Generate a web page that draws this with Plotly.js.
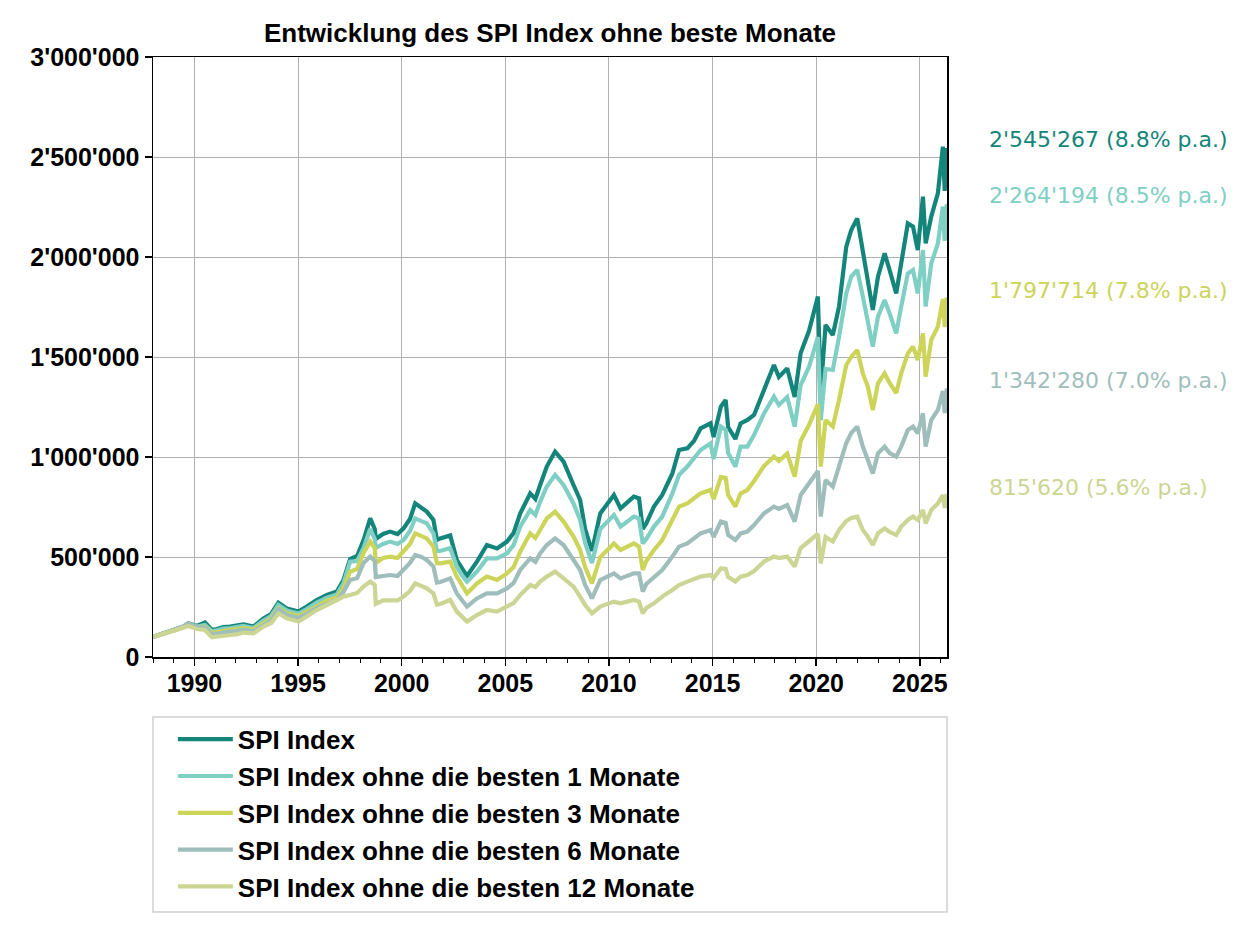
<!DOCTYPE html>
<html>
<head>
<meta charset="utf-8">
<script src="https://cdn.plot.ly/plotly-3.0.1.min.js"></script>
<style>
  html, body { margin: 0; padding: 0; background: #ffffff; }
  #chart { width: 1260px; height: 945px; }
</style>
</head>
<body>
<div id="chart"></div>
<script>
// ---------- data ----------
const years = [
  1988.0, 1988.4, 1988.83, 1989.2, 1989.47, 1989.71, 1990.11, 1990.51, 1990.84, 1991.08,
  1991.4, 1991.72, 1992.05, 1992.36, 1992.85, 1993.33, 1993.7, 1994.05, 1994.46, 1995.02,
  1995.42, 1995.9, 1996.39, 1996.87, 1997.19, 1997.51, 1997.85, 1998.16, 1998.48, 1998.7,
  1998.75, 1999.1, 1999.44, 1999.8, 2000.09, 2000.4, 2000.65, 2000.95, 2001.21, 2001.53,
  2001.7, 2001.86, 2002.34, 2002.66, 2002.9, 2003.15, 2003.63, 2004.11, 2004.6, 2005.08,
  2005.4, 2005.72, 2006.2, 2006.45, 2006.68, 2007.0, 2007.4, 2007.81, 2008.29, 2008.61,
  2008.85, 2009.18, 2009.58, 2010.24, 2010.56, 2011.2, 2011.45, 2011.63, 2011.8, 2012.17,
  2012.57, 2013.06, 2013.38, 2013.78, 2014.1, 2014.42, 2014.9, 2015.05, 2015.4, 2015.63,
  2015.75, 2016.1, 2016.35, 2016.68, 2017.0, 2017.48, 2017.96, 2018.2, 2018.6, 2018.96,
  2019.25, 2019.65, 2020.08, 2020.22, 2020.45, 2020.8, 2021.1, 2021.45, 2021.69, 2021.98,
  2022.25, 2022.49, 2022.73, 2022.98, 2023.3, 2023.54, 2023.86, 2024.1, 2024.42, 2024.67,
  2024.9, 2025.15, 2025.28, 2025.55, 2025.87, 2026.11, 2026.2, 2026.3
];

const spiIndex = [
  100000, 115000, 127000, 140000, 152000, 168000, 155000, 172000, 135000, 140000,
  150000, 152000, 155000, 163000, 152000, 193000, 215000, 272000, 243000, 227000,
  252000, 285000, 310000, 327000, 385000, 490000, 505000, 585000, 693000, 640000,
  590000, 615000, 627000, 615000, 643000, 690000, 768000, 745000, 727000, 685000,
  585000, 593000, 608000, 485000, 450000, 405000, 477000, 560000, 543000, 577000,
  620000, 718000, 818000, 790000, 860000, 952000, 1027000, 977000, 860000, 785000,
  640000, 530000, 718000, 810000, 743000, 802000, 793000, 640000, 668000, 752000,
  810000, 918000, 1035000, 1043000, 1080000, 1143000, 1168000, 1100000, 1252000, 1285000,
  1150000, 1090000, 1168000, 1185000, 1210000, 1340000, 1460000, 1400000, 1443000, 1300000,
  1520000, 1630000, 1802000, 1330000, 1660000, 1610000, 1752000, 2052000, 2135000, 2193000,
  2018000, 1885000, 1735000, 1902000, 2018000, 1935000, 1818000, 1968000, 2168000, 2152000,
  2035000, 2302000, 2068000, 2202000, 2318000, 2552000, 2330000, 2545267
];

const ohne1 = [
  100000, 115000, 127000, 140000, 150000, 165000, 152000, 160000, 128000, 133000,
  142000, 145000, 148000, 155000, 145000, 183000, 205000, 260000, 232000, 217000,
  240000, 272000, 296000, 313000, 368000, 477000, 480000, 545000, 640000, 590000,
  545000, 565000, 577000, 565000, 585000, 630000, 693000, 680000, 668000, 618000,
  530000, 530000, 545000, 452000, 410000, 377000, 427000, 493000, 493000, 518000,
  560000, 652000, 735000, 710000, 777000, 852000, 910000, 860000, 768000, 685000,
  570000, 470000, 640000, 710000, 652000, 702000, 693000, 568000, 590000, 652000,
  702000, 818000, 910000, 952000, 990000, 1035000, 1068000, 990000, 1152000, 1135000,
  1020000, 952000, 1052000, 1052000, 1110000, 1218000, 1302000, 1260000, 1300000, 1152000,
  1360000, 1450000, 1600000, 1185000, 1440000, 1435000, 1600000, 1818000, 1902000, 1935000,
  1802000, 1685000, 1552000, 1702000, 1785000, 1718000, 1618000, 1752000, 1918000, 1935000,
  1818000, 2035000, 1752000, 1968000, 2068000, 2252000, 2080000, 2264194
];

const ohne3 = [
  100000, 115000, 126000, 138000, 148000, 160000, 148000, 152000, 120000, 125000,
  133000, 136000, 139000, 146000, 137000, 172000, 193000, 245000, 220000, 205000,
  227000, 258000, 281000, 298000, 345000, 427000, 440000, 520000, 577000, 545000,
  470000, 495000, 502000, 495000, 527000, 565000, 618000, 605000, 593000, 552000,
  470000, 468000, 477000, 402000, 360000, 318000, 368000, 402000, 385000, 418000,
  450000, 527000, 618000, 595000, 635000, 693000, 727000, 677000, 602000, 535000,
  450000, 368000, 500000, 568000, 535000, 568000, 552000, 435000, 480000, 535000,
  585000, 685000, 752000, 768000, 790000, 818000, 835000, 790000, 900000, 895000,
  810000, 752000, 818000, 835000, 880000, 955000, 1002000, 980000, 1018000, 902000,
  1080000, 1160000, 1265000, 952000, 1185000, 1152000, 1285000, 1460000, 1500000, 1535000,
  1418000, 1352000, 1235000, 1368000, 1418000, 1370000, 1320000, 1418000, 1518000, 1552000,
  1485000, 1618000, 1402000, 1585000, 1652000, 1790000, 1650000, 1797714
];

const ohne6 = [
  100000, 115000, 127000, 140000, 152000, 168000, 150000, 148000, 112000, 116000,
  124000, 127000, 130000, 137000, 128000, 162000, 182000, 240000, 210000, 195000,
  215000, 245000, 268000, 285000, 325000, 385000, 395000, 470000, 502000, 480000,
  400000, 405000, 410000, 405000, 435000, 470000, 510000, 500000, 485000, 452000,
  372000, 375000, 393000, 318000, 285000, 252000, 293000, 318000, 318000, 343000,
  370000, 435000, 493000, 475000, 518000, 560000, 593000, 560000, 485000, 435000,
  360000, 293000, 385000, 418000, 393000, 418000, 418000, 327000, 365000, 402000,
  435000, 502000, 552000, 568000, 590000, 618000, 635000, 600000, 677000, 670000,
  610000, 585000, 618000, 627000, 660000, 718000, 752000, 740000, 760000, 677000,
  810000, 868000, 930000, 702000, 885000, 852000, 952000, 1070000, 1120000, 1152000,
  1052000, 985000, 918000, 1018000, 1052000, 1020000, 1002000, 1052000, 1135000, 1152000,
  1118000, 1218000, 1052000, 1185000, 1235000, 1330000, 1220000, 1342280
];

const ohne12 = [
  100000, 113000, 124000, 135000, 145000, 155000, 140000, 135000, 98000, 102000,
  108000, 110000, 113000, 122000, 118000, 152000, 170000, 218000, 193000, 177000,
  202000, 235000, 260000, 285000, 302000, 310000, 320000, 352000, 377000, 360000,
  265000, 283000, 285000, 283000, 302000, 330000, 368000, 355000, 343000, 318000,
  262000, 265000, 285000, 227000, 205000, 177000, 210000, 235000, 227000, 252000,
  270000, 310000, 360000, 350000, 377000, 402000, 427000, 393000, 352000, 302000,
  260000, 218000, 252000, 277000, 268000, 285000, 277000, 218000, 245000, 268000,
  302000, 335000, 360000, 377000, 390000, 402000, 410000, 395000, 443000, 440000,
  400000, 377000, 402000, 410000, 430000, 477000, 502000, 495000, 502000, 452000,
  545000, 580000, 615000, 468000, 600000, 577000, 635000, 680000, 695000, 702000,
  635000, 602000, 560000, 618000, 643000, 625000, 610000, 652000, 685000, 702000,
  685000, 735000, 668000, 735000, 768000, 810000, 745000, 815620
];

const seriesNames = [
  "SPI Index",
  "SPI Index ohne die besten 1 Monate",
  "SPI Index ohne die besten 3 Monate",
  "SPI Index ohne die besten 6 Monate",
  "SPI Index ohne die besten 12 Monate"
];
const finalValues = ["2'545'267", "2'264'194", "1'797'714", "1'342'280", "815'620"];
const annualReturns = ["8.8%", "8.5%", "7.8%", "7.0%", "5.6%"];

const xTickVals = [1990, 1995, 2000, 2005, 2010, 2015, 2020, 2025];
const xTickText = ["1990", "1995", "2000", "2005", "2010", "2015", "2020", "2025"];
const yTickVals = [0, 500000, 1000000, 1500000, 2000000, 2500000, 3000000];
const yTickText = ["0", "500'000", "1'000'000", "1'500'000", "2'000'000", "2'500'000", "3'000'000"];

// ---------- styling ----------
const colors = ["#14857a", "#80cfc5", "#ccd45a", "#9fbebb", "#ccd593"];
const allSeries = [spiIndex, ohne1, ohne3, ohne6, ohne12];
const labelY = [2590000, 2310000, 1835000, 1385000, 850000];

const fam = "Liberation Sans, Arial, sans-serif";
const tickFont = { family: fam, size: 25, color: "#000000", weight: "bold" };
const bigFont = { family: fam, size: 26, color: "#000000", weight: "bold" };

const traces = allSeries.map((vals, i) => ({
  type: "scatter",
  mode: "lines",
  x: years,
  y: vals,
  name: seriesNames[i],
  line: { color: colors[i], width: 4.2 },
  hoverinfo: "skip"
}));

const annotations = finalValues.map((v, i) => ({
  xref: "paper", yref: "y",
  x: 1.050, y: labelY[i],
  xanchor: "left", yanchor: "middle",
  text: v + " (" + annualReturns[i] + " p.a.)",
  showarrow: false,
  font: { family: "DejaVu Sans, sans-serif", size: 22, color: colors[i] }
}));

const layout = {
  width: 1260, height: 945,
  paper_bgcolor: "#ffffff", plot_bgcolor: "#ffffff",
  margin: { l: 153, r: 313, t: 57, b: 288, pad: 0 },
  title: {
    text: "Entwicklung des SPI Index ohne beste Monate",
    font: bigFont,
    x: 0.5, xref: "paper", xanchor: "center",
    y: 1, yref: "paper", yanchor: "bottom",
    pad: { b: 15 }
  },
  xaxis: {
    range: [1988.0, 2026.31],
    tickvals: xTickVals, ticktext: xTickText,
    ticks: "outside", ticklen: 7, tickwidth: 1.5, tickcolor: "#000000",
    ticklabelstandoff: -4,
    showline: true, linecolor: "#000000", linewidth: 1.5, mirror: true,
    showgrid: true, gridcolor: "#b0b0b0", gridwidth: 1,
    zeroline: false,
    tickfont: tickFont,
    minor: { dtick: 1, tick0: 1990, ticks: "outside", ticklen: 4, tickwidth: 1, tickcolor: "#000000", showgrid: false }
  },
  yaxis: {
    range: [0, 3000000],
    tickvals: yTickVals, ticktext: yTickText,
    ticks: "outside", ticklen: 7, tickwidth: 1.5, tickcolor: "#000000",
    showline: true, linecolor: "#000000", linewidth: 1.5, mirror: true,
    showgrid: true, gridcolor: "#b0b0b0", gridwidth: 1,
    zeroline: false,
    tickfont: tickFont
  },
  showlegend: true,
  legend: {
    x: 0.025, xanchor: "left", xref: "paper",
    y: -0.098, yanchor: "top", yref: "paper",
    orientation: "v",
    font: bigFont,
    bgcolor: "rgba(0,0,0,0)",
    borderwidth: 0,
    itemwidth: 55,
    tracegroupgap: 0,
    traceorder: "normal"
  },
  shapes: [{
    type: "rect", xref: "paper", yref: "paper",
    x0: 0, x1: 1, y0: -0.425, y1: -0.1,
    line: { color: "#d0d0d0", width: 1.5 },
    fillcolor: "rgba(255,255,255,0.8)",
    layer: "below"
  }],
  annotations: annotations
};

Plotly.newPlot("chart", traces, layout, { displayModeBar: false, staticPlot: true });
</script>
</body>
</html>
